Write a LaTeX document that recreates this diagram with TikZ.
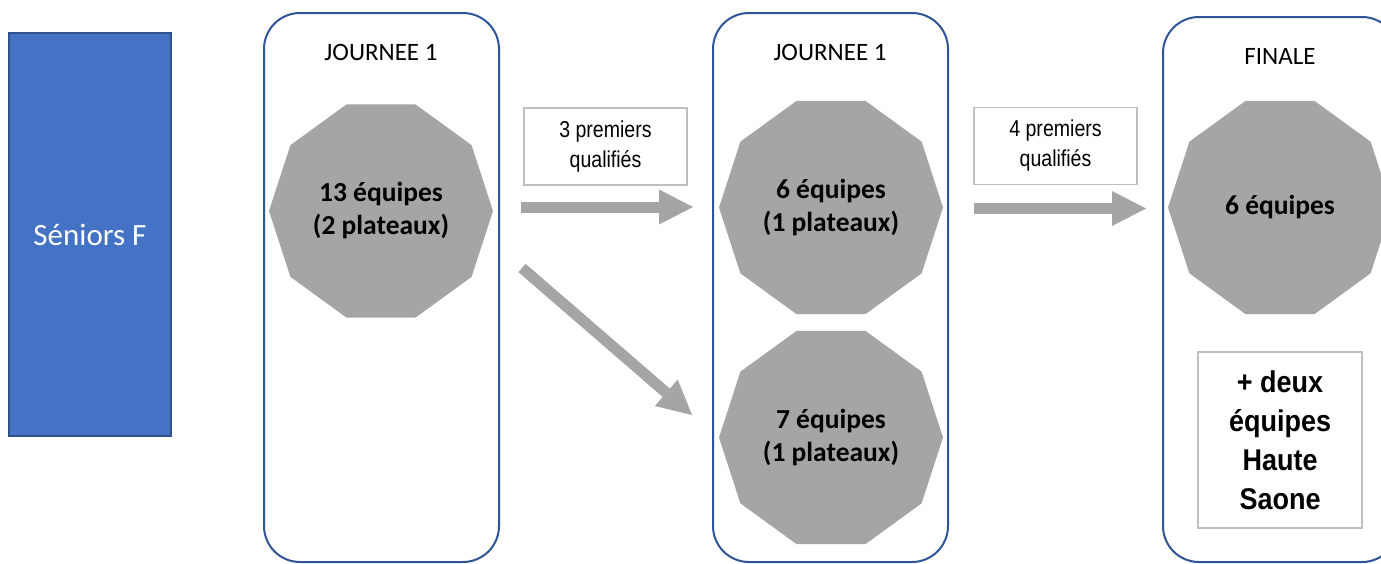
\documentclass[tikz,border=0pt]{standalone}
\usepackage{fontspec}
\setmainfont{Carlito}
\newfontfamily\arialn[FakeStretch=0.85]{Liberation Sans}
\newfontfamily\arialm[FakeStretch=0.9]{Liberation Sans}
\usetikzlibrary{shapes.geometric,arrows.meta}
\definecolor{sblue}{HTML}{4472C4}
\definecolor{sblueedge}{HTML}{2F528F}
\definecolor{stageedge}{HTML}{2F5597}
\definecolor{grayfill}{HTML}{A5A5A5}
\definecolor{lbledge}{HTML}{BFBFBF}
\tikzset{
  seniors/.style={fill=sblue, draw=sblueedge, line width=1.5pt, minimum width=162pt, minimum height=403pt, inner sep=0pt, text=white, font=\fontsize{31}{36}\selectfont},
  stagebox/.style={draw=stageedge, line width=2pt, rounded corners=36pt, minimum width=235pt, minimum height=549pt, inner sep=0pt},
  stagetitle/.style={font=\fontsize{25}{30}\selectfont, inner sep=0pt},
  deca/.style={regular polygon, regular polygon sides=10, minimum size=224pt, inner sep=0pt, fill=grayfill, align=center, font=\bfseries\fontsize{27.5}{33}\selectfont},
  lblbox/.style={draw=lbledge, line width=1.2pt, fill=white, minimum width=163pt, minimum height=77pt, inner sep=0pt, align=center, font=\arialn\fontsize{23}{30}\selectfont},
  extrabox/.style={draw=lbledge, line width=1.2pt, fill=white, minimum width=164pt, minimum height=176pt, inner sep=0pt, align=center, font=\arialm\bfseries\fontsize{30}{39}\selectfont},
  blockarrow/.style={draw=grayfill, line width=11pt, line cap=butt, -{Triangle[length=34pt,width=35pt,line width=0pt]}}
}
\begin{document}
\begin{tikzpicture}[x=1pt,y=-1pt]
\useasboundingbox (0,0) rectangle (1381,563);
\fill[white] (0,0) rectangle (1381,563);
% left label
\node[seniors] (sen) at (90,234.5) {Séniors F};
% stage boxes
\node[stagebox] (b1) at (381.5,287.5) {};
\node[stagebox] (b2) at (830.5,287.5) {};
\node[stagebox, minimum height=545pt] (b3) at (1280.5,289.5) {};
\node[stagetitle] (t1) at (381,52) {JOURNEE 1};
\node[stagetitle] (t2) at (830,52) {JOURNEE 1};
\node[stagetitle] (t3) at (1280,56) {FINALE};
% decagons
\node[deca] (d1) at (381,211) {13 équipes\\(2 plateaux)};
\node[deca] (d2) at (831,207.5) {6 équipes\\(1 plateaux)};
\node[deca] (d3) at (831,437.5) {7 équipes\\(1 plateaux)};
\node[deca] (d4) at (1280,207.5) {6 équipes};
% labels
\node[lblbox] (l1) at (605.5,146.5) {3 premiers\\qualifiés};
\node[lblbox] (l2) at (1055.5,146) {4 premiers\\qualifiés};
\node[extrabox] (x1) at (1280,440) {+ deux\\équipes\\Haute\\Saone};
% arrow ends
\coordinate (a1s) at (521,207);
\coordinate (a1e) at (693,207);
\coordinate (a2s) at (522,268);
\coordinate (a2e) at (692,415);
\coordinate (a3s) at (974,208.5);
\coordinate (a3e) at (1146,208.5);
\draw[blockarrow] (a1s) -- (a1e);
\draw[blockarrow] (a2s) -- (a2e);
\draw[blockarrow] (a3s) -- (a3e);
\end{tikzpicture}
\end{document}
